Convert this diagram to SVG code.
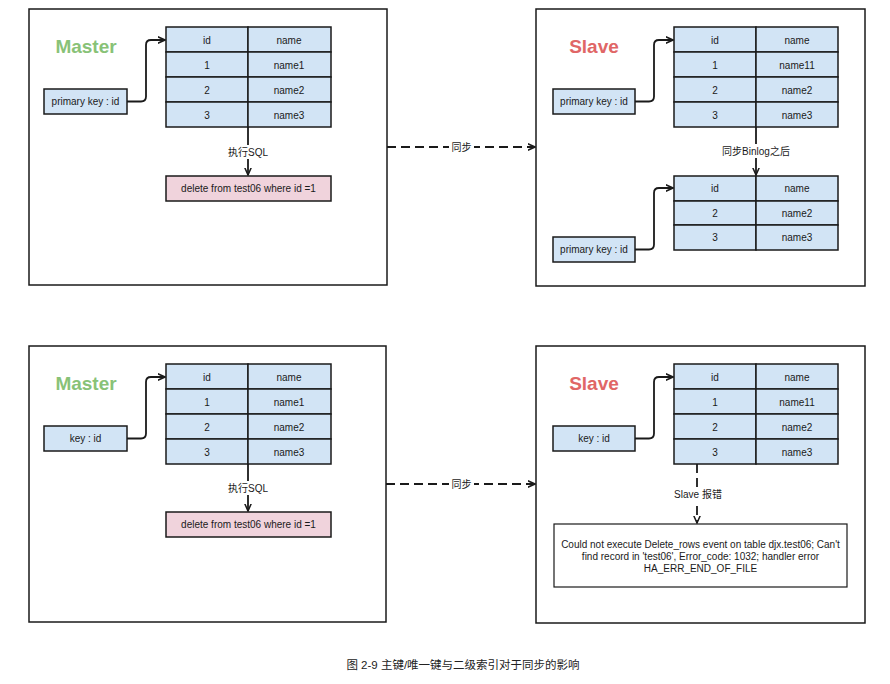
<svg xmlns="http://www.w3.org/2000/svg" width="890" height="684" viewBox="0 0 890 684">
<style>
text{font-family:"Liberation Sans","Noto Sans CJK SC",Arial,sans-serif;font-size:10px;fill:#1a1a1a;text-anchor:middle;dominant-baseline:central}
.frame{fill:#fff;stroke:#1a1a1a;stroke-width:1.5}
.cell{fill:#d2e4f5;stroke:#1a1a1a;stroke-width:1.5}
.sql{fill:#f0d3dc;stroke:#1a1a1a;stroke-width:1.5}
.err{fill:#fff;stroke:#1a1a1a;stroke-width:1.2}
.title{font-size:19px;font-weight:bold}
.m{fill:#88c277}
.s{fill:#e06666}
.edge{fill:none;stroke:#1a1a1a;stroke-width:1.8}
.dash{stroke-dasharray:9 5}
.lbl{fill:#fff}
.cap{font-size:11.5px;fill:#222}
</style>
<defs>
<marker id="ah2" viewBox="0 0 10 10" refX="9" refY="5" markerWidth="8" markerHeight="8" markerUnits="userSpaceOnUse" orient="auto">
<path d="M0,1 L9,5 L0,9" fill="none" stroke="#1a1a1a" stroke-width="1.9"/>
</marker>
</defs>

<!-- containers -->
<g id="master1"><rect class="frame" x="29" y="9" width="358" height="276"/><text class="title m" x="86" y="46">Master</text></g>
<g id="slave1"><rect class="frame" x="536" y="9" width="329" height="277"/><text class="title s" x="594" y="46">Slave</text></g>
<g id="master2"><rect class="frame" x="29" y="346" width="357" height="276"/><text class="title m" x="86" y="383">Master</text></g>
<g id="slave2"><rect class="frame" x="536" y="346" width="329" height="277"/><text class="title s" x="594" y="383">Slave</text></g>

<!-- tables -->
<g id="table-m1">
<rect class="cell" x="166" y="27" width="82" height="25"/><rect class="cell" x="248" y="27" width="83" height="25"/>
<rect class="cell" x="166" y="52" width="82" height="25"/><rect class="cell" x="248" y="52" width="83" height="25"/>
<rect class="cell" x="166" y="77" width="82" height="25"/><rect class="cell" x="248" y="77" width="83" height="25"/>
<rect class="cell" x="166" y="102" width="82" height="25"/><rect class="cell" x="248" y="102" width="83" height="25"/>
<text x="207" y="40">id</text><text x="289" y="40">name</text>
<text x="207" y="65">1</text><text x="289" y="65">name1</text>
<text x="207" y="90">2</text><text x="289" y="90">name2</text>
<text x="207" y="115">3</text><text x="289" y="115">name3</text>
</g>
<g id="table-s1">
<rect class="cell" x="674" y="27" width="82" height="25"/><rect class="cell" x="756" y="27" width="82" height="25"/>
<rect class="cell" x="674" y="52" width="82" height="25"/><rect class="cell" x="756" y="52" width="82" height="25"/>
<rect class="cell" x="674" y="77" width="82" height="25"/><rect class="cell" x="756" y="77" width="82" height="25"/>
<rect class="cell" x="674" y="102" width="82" height="25"/><rect class="cell" x="756" y="102" width="82" height="25"/>
<text x="715" y="40">id</text><text x="797" y="40">name</text>
<text x="715" y="65">1</text><text x="797" y="65">name11</text>
<text x="715" y="90">2</text><text x="797" y="90">name2</text>
<text x="715" y="115">3</text><text x="797" y="115">name3</text>
</g>
<g id="table-s1b">
<rect class="cell" x="674" y="176" width="82" height="25"/><rect class="cell" x="756" y="176" width="82" height="25"/>
<rect class="cell" x="674" y="201" width="82" height="24"/><rect class="cell" x="756" y="201" width="82" height="24"/>
<rect class="cell" x="674" y="225" width="82" height="25"/><rect class="cell" x="756" y="225" width="82" height="25"/>
<text x="715" y="188">id</text><text x="797" y="188">name</text>
<text x="715" y="213">2</text><text x="797" y="213">name2</text>
<text x="715" y="237">3</text><text x="797" y="237">name3</text>
</g>
<g id="table-m2">
<rect class="cell" x="166" y="364" width="82" height="25"/><rect class="cell" x="248" y="364" width="83" height="25"/>
<rect class="cell" x="166" y="389" width="82" height="25"/><rect class="cell" x="248" y="389" width="83" height="25"/>
<rect class="cell" x="166" y="414" width="82" height="25"/><rect class="cell" x="248" y="414" width="83" height="25"/>
<rect class="cell" x="166" y="439" width="82" height="25"/><rect class="cell" x="248" y="439" width="83" height="25"/>
<text x="207" y="377">id</text><text x="289" y="377">name</text>
<text x="207" y="402">1</text><text x="289" y="402">name1</text>
<text x="207" y="427">2</text><text x="289" y="427">name2</text>
<text x="207" y="452">3</text><text x="289" y="452">name3</text>
</g>
<g id="table-s2">
<rect class="cell" x="674" y="364" width="82" height="25"/><rect class="cell" x="756" y="364" width="82" height="25"/>
<rect class="cell" x="674" y="389" width="82" height="25"/><rect class="cell" x="756" y="389" width="82" height="25"/>
<rect class="cell" x="674" y="414" width="82" height="25"/><rect class="cell" x="756" y="414" width="82" height="25"/>
<rect class="cell" x="674" y="439" width="82" height="25"/><rect class="cell" x="756" y="439" width="82" height="25"/>
<text x="715" y="377">id</text><text x="797" y="377">name</text>
<text x="715" y="402">1</text><text x="797" y="402">name11</text>
<text x="715" y="427">2</text><text x="797" y="427">name2</text>
<text x="715" y="452">3</text><text x="797" y="452">name3</text>
</g>

<!-- key boxes -->
<g id="pk-m1"><rect class="cell" x="44" y="89" width="83" height="25"/><text x="85.5" y="101.5">primary key : id</text></g>
<g id="pk-s1"><rect class="cell" x="553" y="89" width="82" height="25"/><text x="594" y="101.5">primary key : id</text></g>
<g id="pk-s1b"><rect class="cell" x="553" y="237" width="82" height="25"/><text x="594" y="249.5">primary key : id</text></g>
<g id="key-m2"><rect class="cell" x="44" y="426" width="83" height="25"/><text x="85.5" y="438.5">key : id</text></g>
<g id="key-s2"><rect class="cell" x="553" y="426" width="82" height="25"/><text x="594" y="438.5">key : id</text></g>

<!-- sql boxes -->
<g id="sql-m1"><rect class="sql" x="166" y="176" width="165" height="25"/><text x="248.5" y="188.5">delete from test06 where id =1</text></g>
<g id="sql-m2"><rect class="sql" x="166" y="512" width="165" height="25"/><text x="248.5" y="524.5">delete from test06 where id =1</text></g>

<!-- error box -->
<g id="error"><rect class="err" x="554" y="524" width="293" height="63"/>
<text x="700.5" y="544">Could not execute Delete_rows event on table djx.test06; Can't</text>
<text x="700.5" y="556">find record in 'test06', Error_code: 1032; handler error</text>
<text x="700.5" y="568">HA_ERR_END_OF_FILE</text>
</g>

<!-- connectors -->
<g id="connectors">
<path class="edge" marker-end="url(#ah2)" d="M127,101.5 L141,101.5 Q146,101.5 146,96.5 L146,45 Q146,40 151,40 L165,40"/>
<path class="edge" marker-end="url(#ah2)" d="M635,101.5 L649,101.5 Q654,101.5 654,96.5 L654,45 Q654,40 659,40 L673,40"/>
<path class="edge" marker-end="url(#ah2)" d="M635,249.5 L649,249.5 Q654,249.5 654,244.5 L654,193 Q654,188 659,188 L673,188"/>
<path class="edge" marker-end="url(#ah2)" d="M127,438.5 L141,438.5 Q146,438.5 146,433.5 L146,382 Q146,377 151,377 L165,377"/>
<path class="edge" marker-end="url(#ah2)" d="M635,438.5 L649,438.5 Q654,438.5 654,433.5 L654,382 Q654,377 659,377 L673,377"/>

<path class="edge" marker-end="url(#ah2)" d="M248,127 L248,175"/>
<rect class="lbl" x="224" y="145" width="48" height="14"/>
<text x="248" y="152">执行SQL</text>

<path class="edge" marker-end="url(#ah2)" d="M248,464 L248,511"/>
<rect class="lbl" x="224" y="481" width="48" height="14"/>
<text x="248" y="488">执行SQL</text>

<path class="edge" marker-end="url(#ah2)" d="M756,127 L756,175"/>
<rect class="lbl" x="720" y="144" width="72" height="14"/>
<text x="756" y="151">同步Binlog之后</text>

<path class="edge dash" marker-end="url(#ah2)" d="M697,464 L697,523"/>
<rect class="lbl" x="669" y="487" width="58" height="14"/>
<text x="698" y="494">Slave 报错</text>

<path class="edge dash" marker-end="url(#ah2)" d="M387,147 L535,147"/>
<rect class="lbl" x="449" y="140" width="25" height="14"/>
<text x="461.5" y="147">同步</text>

<path class="edge dash" marker-end="url(#ah2)" d="M386,484 L535,484"/>
<rect class="lbl" x="449" y="477" width="25" height="14"/>
<text x="461.5" y="484">同步</text>
</g>

<text class="cap" x="463" y="665">图 2-9 主键/唯一键与二级索引对于同步的影响</text>
</svg>
